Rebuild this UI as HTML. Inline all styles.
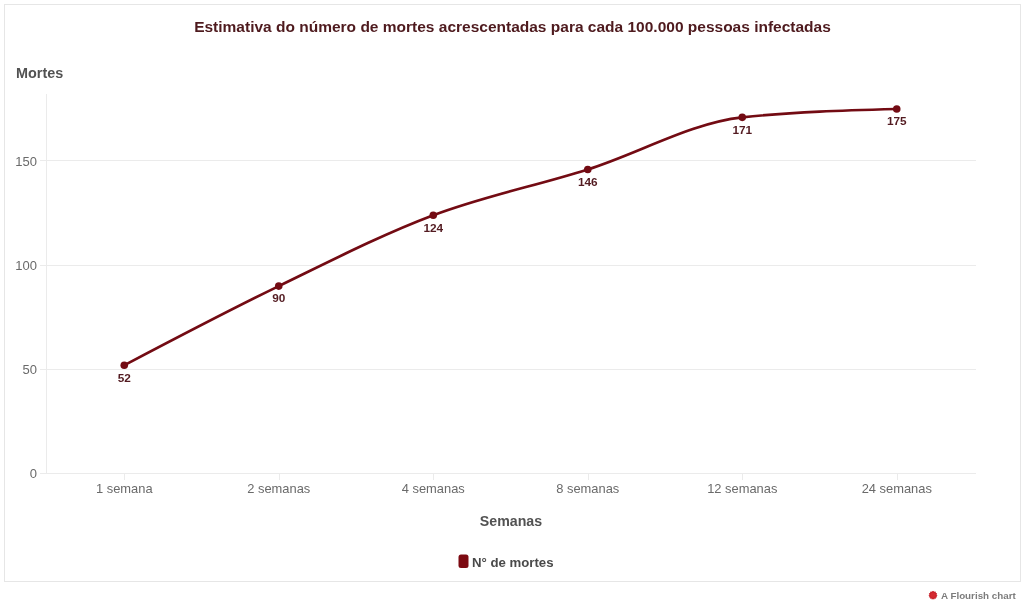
<!DOCTYPE html>
<html><head><meta charset="utf-8">
<style>
html,body{margin:0;padding:0;background:#fff;width:1024px;height:605px;overflow:hidden;}
svg{position:absolute;left:0;top:0;will-change:transform;}
text{font-family:"Liberation Sans",sans-serif;}
</style></head>
<body>
<svg width="1024" height="605" viewBox="0 0 1024 605">
<!-- frame -->
<rect x="4.5" y="4.5" width="1016" height="577" fill="#fff" stroke="#e6e6e6" stroke-width="1"/>
<!-- title -->
<text x="512.5" y="32" text-anchor="middle" font-size="15.5" font-weight="bold" fill="#4e1a1e">Estimativa do número de mortes acrescentadas para cada 100.000 pessoas infectadas</text>
<!-- y axis title -->
<text x="16" y="77.5" font-size="14.4" font-weight="bold" fill="#525252">Mortes</text>
<!-- gridlines -->
<g fill="#ebebeb">
<rect x="40" y="160" width="936" height="1"/>
<rect x="40" y="265" width="936" height="1"/>
<rect x="40" y="369" width="936" height="1"/>
<rect x="40" y="473" width="936" height="1"/>
<rect x="46" y="94" width="1" height="380"/>
<rect x="124" y="474" width="1" height="6"/>
<rect x="279" y="474" width="1" height="6"/>
<rect x="433" y="474" width="1" height="6"/>
<rect x="588" y="474" width="1" height="6"/>
<rect x="742" y="474" width="1" height="6"/>
<rect x="897" y="474" width="1" height="6"/>
</g>
<!-- y tick labels -->
<g font-size="13" fill="#6a6a6a" text-anchor="end">
<text x="37" y="165.6">150</text>
<text x="37" y="270">100</text>
<text x="37" y="374">50</text>
<text x="37" y="478">0</text>
</g>
<!-- x tick labels -->
<g font-size="12.9" fill="#6a6a6a" text-anchor="middle">
<text x="124.25" y="492.6">1 semana</text>
<text x="278.75" y="492.6">2 semanas</text>
<text x="433.25" y="492.6">4 semanas</text>
<text x="587.75" y="492.6">8 semanas</text>
<text x="742.25" y="492.6">12 semanas</text>
<text x="896.75" y="492.6">24 semanas</text>
</g>
<!-- x axis title -->
<text x="511" y="525.7" text-anchor="middle" font-size="14.2" font-weight="bold" fill="#525252">Semanas</text>
<!-- line -->
<path d="M124.25,365.27 C175.75,338.19 227.25,311.10 278.75,286.10 C330.25,261.10 381.75,234.71 433.25,215.27 C484.75,195.83 536.25,185.76 587.75,169.44 C639.25,153.12 690.75,122.91 742.25,117.36 C793.75,111.80 845.25,110.41 896.75,109.02" fill="none" stroke="#730b13" stroke-width="2.7" stroke-linejoin="round" stroke-linecap="round"/>
<g fill="#730b13">
<circle cx="124.25" cy="365.27" r="3.8"/>
<circle cx="278.75" cy="286.10" r="3.8"/>
<circle cx="433.25" cy="215.27" r="3.8"/>
<circle cx="587.75" cy="169.44" r="3.8"/>
<circle cx="742.25" cy="117.36" r="3.8"/>
<circle cx="896.75" cy="109.02" r="3.8"/>
</g>
<!-- data labels -->
<g font-size="11.8" font-weight="bold" fill="#531b21" text-anchor="middle">
<text x="124.25" y="381.57">52</text>
<text x="278.75" y="302.40">90</text>
<text x="433.25" y="231.57">124</text>
<text x="587.75" y="185.74">146</text>
<text x="742.25" y="133.66">171</text>
<text x="896.75" y="125.32">175</text>
</g>
<!-- legend -->
<rect x="458.5" y="554.5" width="10" height="13.6" rx="2.5" fill="#7d0a12"/>
<text x="472" y="566.6" font-size="13.2" font-weight="bold" fill="#4a4a4a">N° de mortes</text>
<!-- credit -->
<polygon points="937.60,595.20 936.51,596.00 937.14,597.20 935.81,597.44 935.87,598.80 934.56,598.44 934.02,599.68 933.00,598.80 931.98,599.68 931.44,598.44 930.13,598.80 930.19,597.44 928.86,597.20 929.49,596.00 928.40,595.20 929.49,594.40 928.86,593.20 930.19,592.96 930.13,591.60 931.44,591.96 931.98,590.72 933.00,591.60 934.02,590.72 934.56,591.96 935.87,591.60 935.81,592.96 937.14,593.20 936.51,594.40" fill="#c8202a"/><circle cx="933" cy="595.2" r="2.6" fill="#d42a30"/>
<text x="941" y="598.7" font-size="9.8" font-weight="bold" fill="#7c7c7c">A Flourish chart</text>
</svg>
</body></html>
